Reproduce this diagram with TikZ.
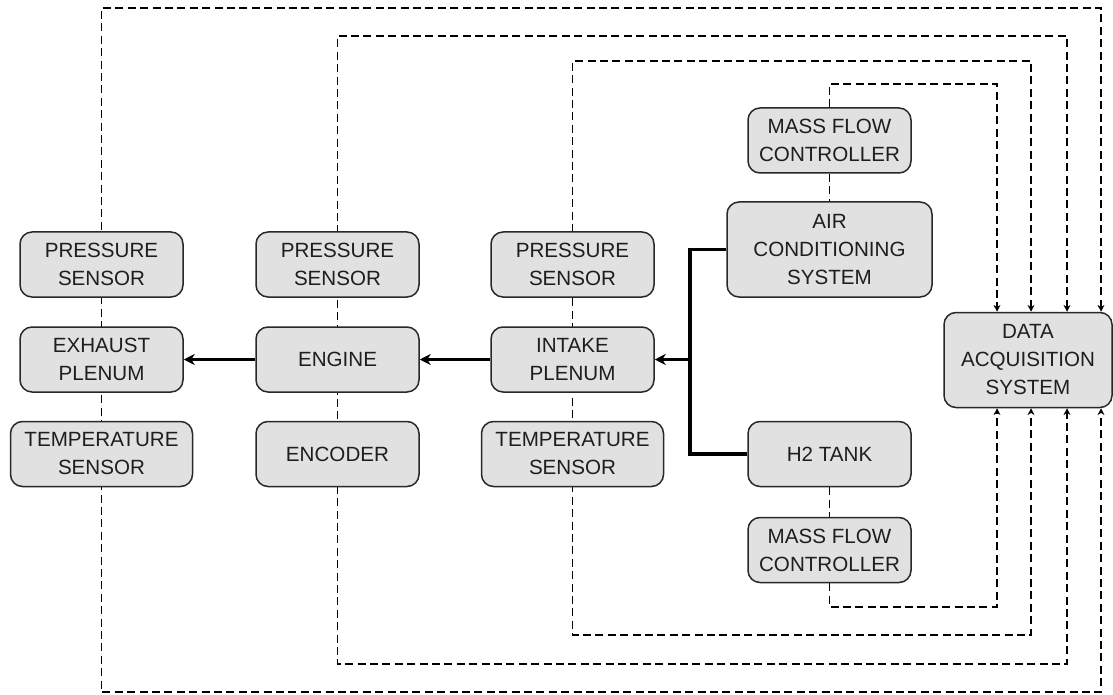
\documentclass[tikz,border=0pt]{standalone}
\usepackage{fontspec}
\setmainfont{Liberation Sans}
\usetikzlibrary{arrows.meta,backgrounds}

\begin{document}
\begin{tikzpicture}[x = 0.5pt, y = -0.5pt]
\tikzstyle{BlockStyle}=[draw = {rgb,255:red,40; green,40; blue,40}, rounded corners = 6pt, line width = 0.75pt, fill = {rgb,255:red,225; green,225; blue,225}, text = {rgb,255:red,30; green,30; blue,30}, align = center, minimum width = 81.5pt, minimum height = 32.5pt, inner sep = 2pt, font = \fontsize{10.3}{14}\selectfont]
\tikzstyle{WideBlockStyle}=[BlockStyle, minimum width = 91pt]
\tikzstyle{BigBlockStyle}=[BlockStyle, minimum height = 47.5pt]
\tikzstyle{FlowStyle}=[line width = 1.6pt, -{Stealth[length = 5.5pt, width = 5.5pt]}]
\tikzstyle{SignalStyle}=[line width = 0.8pt, dash pattern = on 4pt off 2.2pt]
\tikzstyle{SignalArrowStyle}=[SignalStyle, {Stealth[length = 3.4pt, width = 3.4pt]}-{Stealth[length = 3.4pt, width = 3.4pt]}]
\tikzstyle{SignalEndStyle}=[SignalStyle, -{Stealth[length = 3.4pt, width = 3.4pt]}]
\useasboundingbox (0,0) rectangle (1113,695);
\node[BlockStyle] (ps1) at (101.5,264.5) {PRESSURE\\SENSOR};
\node[BlockStyle] (exh) at (101.5,359.5) {EXHAUST\\PLENUM};
\node[WideBlockStyle] (ts1) at (101.5,454) {TEMPERATURE\\SENSOR};
\node[BlockStyle] (ps2) at (337.5,264.5) {PRESSURE\\SENSOR};
\node[BlockStyle] (eng) at (337.5,359.5) {ENGINE};
\node[BlockStyle] (enc) at (337.5,454) {ENCODER};
\node[BlockStyle] (ps3) at (572.5,264.5) {PRESSURE\\SENSOR};
\node[BlockStyle] (intk) at (572.5,359.5) {INTAKE\\PLENUM};
\node[WideBlockStyle] (ts3) at (572.5,454) {TEMPERATURE\\SENSOR};
\node[BlockStyle] (mfc1) at (829.5,140.5) {MASS FLOW\\CONTROLLER};
\node[BigBlockStyle, minimum width = 102.5pt] (ac) at (829.5,249.5) {AIR\\CONDITIONING\\SYSTEM};
\node[BlockStyle] (h2) at (829.5,454) {H2 TANK};
\node[BlockStyle] (mfc2) at (829.5,550) {MASS FLOW\\CONTROLLER};
\node[BigBlockStyle, minimum width = 84pt] (daq) at (1028,360) {DATA\\ACQUISITION\\SYSTEM};
\coordinate (lane1) at (997,0);
\coordinate (lane2) at (1031,0);
\coordinate (lane3) at (1067,0);
\coordinate (lane4) at (1101,0);
\coordinate (top1) at (0,84);
\coordinate (top2) at (0,61);
\coordinate (top3) at (0,36);
\coordinate (top4) at (0,8);
\coordinate (bot1) at (0,607);
\coordinate (bot2) at (0,635);
\coordinate (bot3) at (0,664);
\coordinate (bot4) at (0,692);
\coordinate (junc) at (690,359.5);
\begin{scope}[on background layer]
\draw[SignalArrowStyle] (daq.north -| lane4) |- (ps1 |- top4) -- (ts1 |- bot4) -| (daq.south -| lane4);
\draw[SignalArrowStyle] (daq.north -| lane3) |- (ps2 |- top3) -- (enc |- bot3) -| (daq.south -| lane3);
\draw[SignalArrowStyle] (daq.north -| lane2) |- (ps3 |- top2) -- (ts3 |- bot2) -| (daq.south -| lane2);
\draw[SignalEndStyle] (mfc1.north) |- (lane1 |- top1) -- (daq.north -| lane1);
\draw[SignalEndStyle] (mfc2.south) |- (lane1 |- bot1) -- (daq.south -| lane1);
\draw[SignalStyle] (mfc1) -- (ac);
\draw[SignalStyle] (h2) -- (mfc2);
\end{scope}
\draw[FlowStyle] (eng) -- (exh);
\draw[FlowStyle] (intk) -- (eng);
\draw[line width = 1.6pt] (ac.west) -| (junc) |- (h2.west);
\draw[FlowStyle] (junc) -- (intk.east);
\end{tikzpicture}
\end{document}
